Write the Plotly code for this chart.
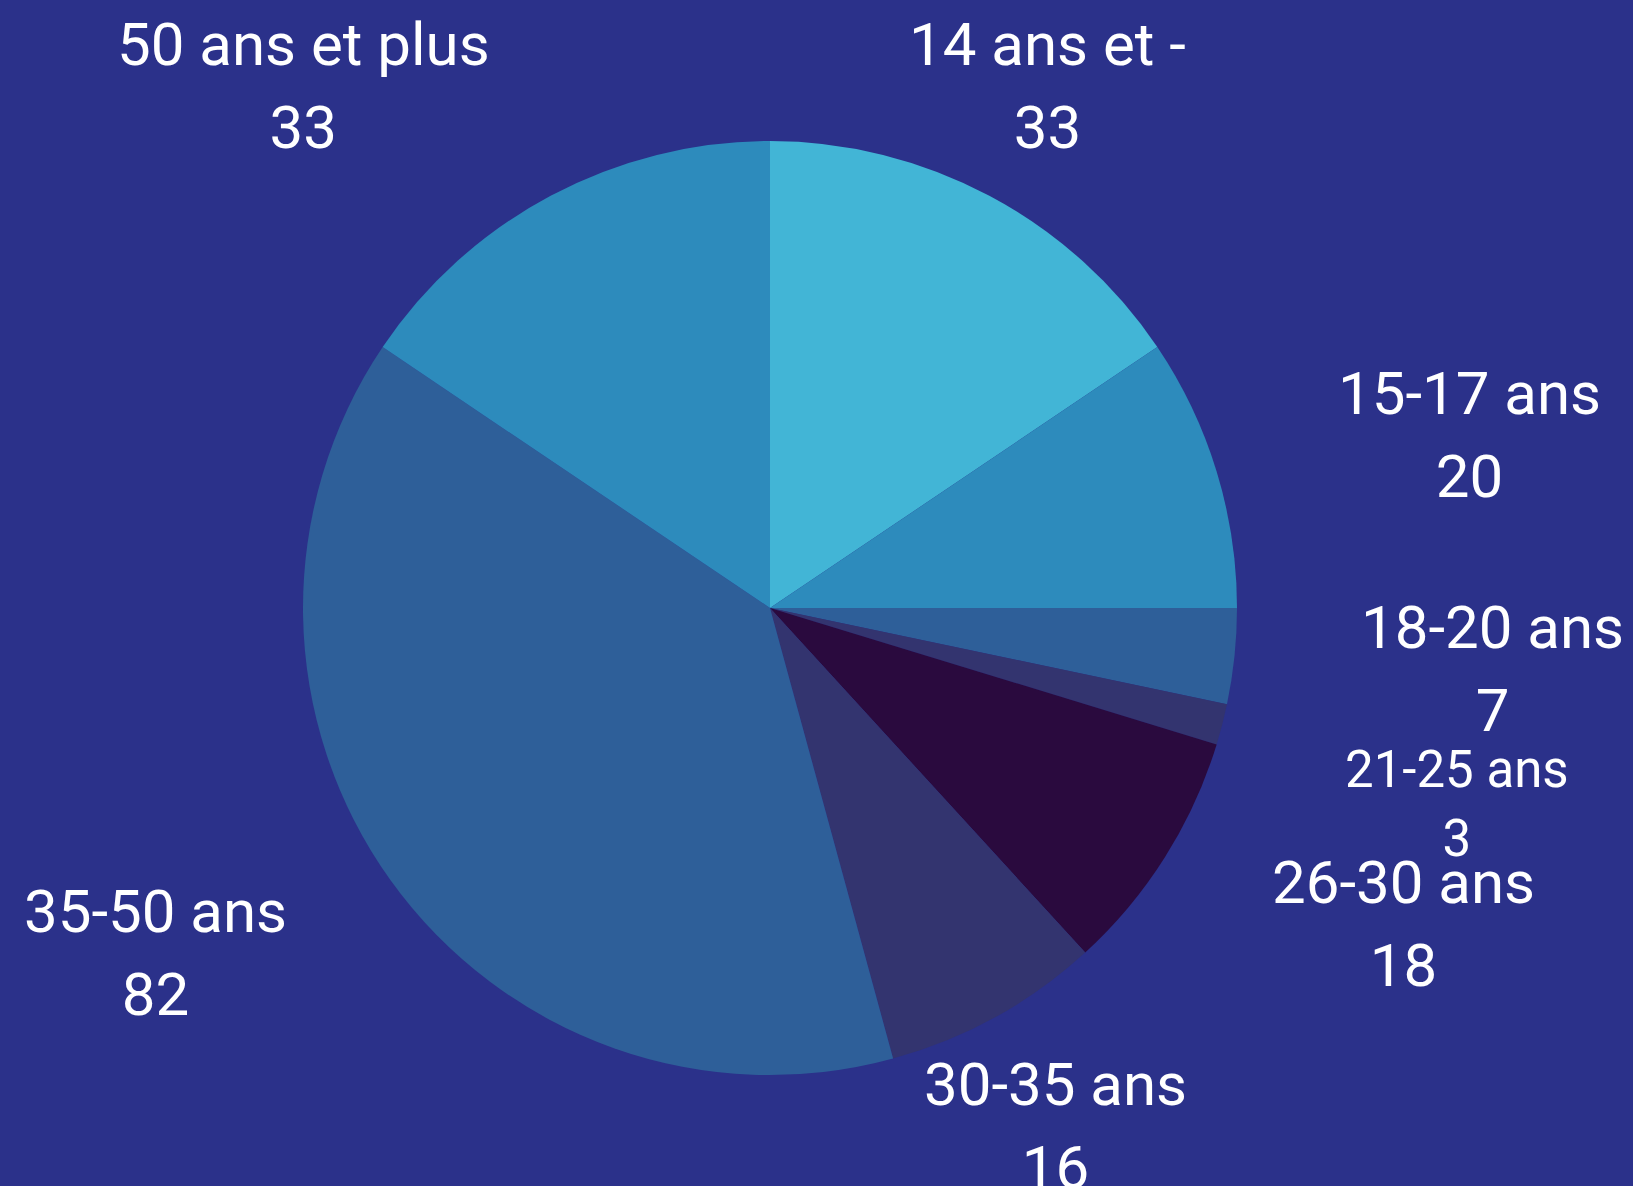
import math
import plotly.graph_objects as go

# ---- data ----
categories = ["14 ans et -", "15-17 ans", "18-20 ans", "21-25 ans",
              "26-30 ans", "30-35 ans", "35-50 ans", "50 ans et plus"]
values = [33, 20, 7, 3, 18, 16, 82, 33]
colors = ["#42b5d6", "#2d8bbc", "#2e5f99", "#33346f",
          "#2a0a3e", "#33346f", "#2e5f99", "#2d8bbc"]

# ---- layout constants ----
W, H = 1633, 1186
CX, CY, R = 770, 608, 467          # pie centre / radius in pixels
LABEL_R = 1.267 * R                # radial distance of label anchors
BIG_BASE, BIG_GLYPH = 64, 60       # base size sets line spacing, glyph size sets text
SMALL_BASE, SMALL_GLYPH = 53, 51
BG = "#2b318a"
FONT = "Roboto"

# approximate Roboto advance widths (em)
CW = {d: 0.5615 for d in "0123456789"}
CW.update({" ": 0.248, "-": 0.276, "a": 0.543, "n": 0.552, "s": 0.516,
           "e": 0.529, "t": 0.327, "p": 0.561, "l": 0.242, "u": 0.551})


def text_w(s, f):
    return sum(CW.get(c, 0.55) for c in s) * f


fig = go.Figure(go.Pie(
    labels=categories, values=values, sort=False, direction="clockwise",
    rotation=0, textinfo="none", hoverinfo="label+value",
    marker=dict(colors=colors, line=dict(width=0)),
    domain=dict(x=[(CX - R) / W, (CX + R) / W],
                y=[(H - CY - R) / H, (H - CY + R) / H]),
    showlegend=False,
))

total = sum(values)
cum = 0
annotations = []
prev_bottom = None
for name, v in zip(categories, values):
    frac = v / total
    theta = 2 * math.pi * (cum + v / 2) / total
    cum += v
    sx, sy = math.sin(theta), -math.cos(theta)
    px, py = CX + LABEL_R * sx, CY + LABEL_R * sy
    small = frac < 0.02
    base = SMALL_BASE if small else BIG_BASE
    glyph = SMALL_GLYPH if small else BIG_GLYPH
    w = max(text_w(name, glyph), text_w(str(v), glyph))
    h_stack = 2 * 1.15 * base
    h_box = 2 * 1.15 * glyph
    if small and prev_bottom is not None and py - h_stack / 2 < prev_bottom:
        py = prev_bottom + h_stack / 2
    # centred only near the vertical and when a centred box clears the pie
    x0, x1, y0, y1 = px - w / 2, px + w / 2, py - h_box / 2, py + h_box / 2
    nx = min(max(CX, x0), x1)
    ny = min(max(CY, y0), y1)
    clear = math.hypot(nx - CX, ny - CY) > R + 5
    near_vertical = abs(sx) < 0.5
    if clear and near_vertical:
        xanchor = "center"
    else:
        xanchor = "left" if sx > 0 else "right"
    prev_bottom = py + h_stack / 2
    sp = f"<span style='font-size:{glyph}px'>"
    annotations.append(dict(
        x=px / W, y=1 - py / H, xref="paper", yref="paper",
        text=f"{sp}{name}</span><br>{sp}{v}</span>",
        showarrow=False, align="center",
        xanchor=xanchor, yanchor="middle",
        font=dict(family=FONT, size=base, color="white"),
    ))

fig.update_layout(
    width=W, height=H, margin=dict(l=0, r=0, t=0, b=0),
    paper_bgcolor=BG, plot_bgcolor=BG,
    annotations=annotations,
    font=dict(family=FONT, color="white"),
)

fig.write_html("out.html", config={"displayModeBar": False},
               post_script="document.body.style.margin='0';"
                           "document.body.style.overflow='hidden';")
